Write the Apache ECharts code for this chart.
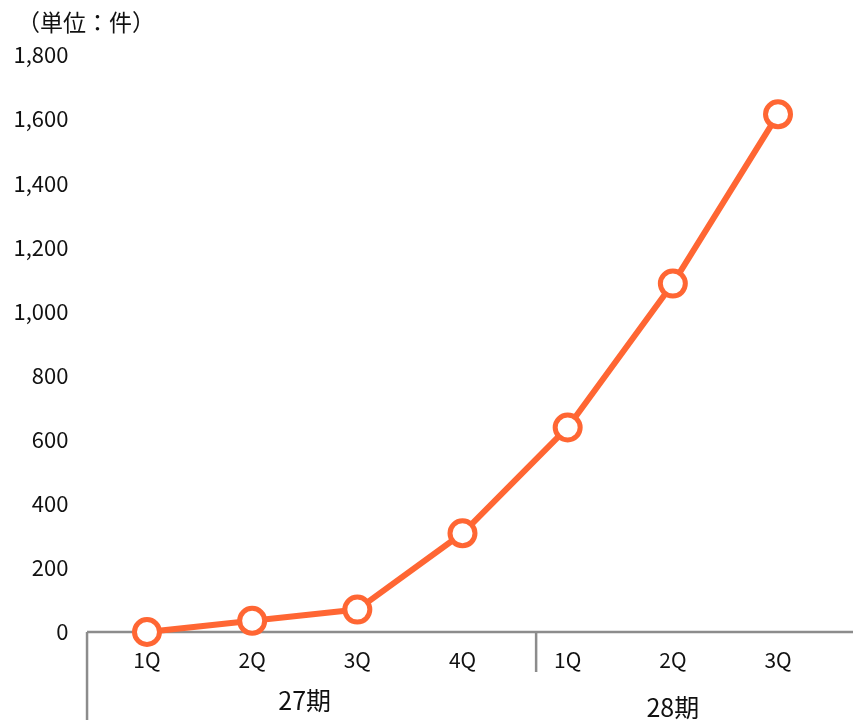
<!DOCTYPE html>
<html>
<head>
<meta charset="utf-8">
<script src="https://cdn.jsdelivr.net/npm/echarts@6/dist/echarts.min.js"></script>
<style>
  html, body { margin: 0; padding: 0; background: #fff; }
  #chart { width: 853px; height: 720px; }
</style>
</head>
<body>
<div id="chart"></div>
<script>
// Quarterly counts, grouped by fiscal period
const quarters = ['1Q', '2Q', '3Q', '4Q', '1Q', '2Q', '3Q'];
const counts = [0, 35, 70, 308, 638, 1087, 1615];
const periods = ['27期', '28期'];
const periodSizes = [4, 3];
const yTicks = { min: 0, max: 1800, step: 200 };
const unitLabel = '（単位：件）';

const LINE_COLOR = '#FF6633';
const AXIS_COLOR = '#8c8c8c';
const TEXT_COLOR = '#111';
const FONT = '"Noto Sans CJK JP", "Noto Sans", sans-serif';

const chart = echarts.init(document.getElementById('chart'), null, { renderer: 'canvas' });

chart.setOption({
  animation: false,
  backgroundColor: '#fff',
  textStyle: { fontFamily: FONT, color: TEXT_COLOR },
  grid: { left: 94.4, right: 22.4, top: 55, bottom: 88, containLabel: false },
  xAxis: {
    type: 'category',
    data: quarters,
    boundaryGap: true,
    axisLine: { show: false },
    axisTick: { show: false },
    axisLabel: { color: TEXT_COLOR, fontSize: 21, fontFamily: FONT, margin: 18, interval: 0 }
  },
  yAxis: {
    type: 'value',
    min: yTicks.min,
    max: yTicks.max,
    interval: yTicks.step,
    splitLine: { show: false },
    axisLine: { show: false },
    axisTick: { show: false },
    axisLabel: {
      color: TEXT_COLOR, fontSize: 22, fontFamily: FONT, margin: 26,
      formatter: v => v.toLocaleString('en-US')
    }
  },
  series: [{
    type: 'line',
    data: counts,
    z: 5,
    lineStyle: { color: LINE_COLOR, width: 6 },
    symbol: 'circle',
    symbolSize: 25,
    itemStyle: { color: '#fff', borderColor: LINE_COLOR, borderWidth: 5 }
  }]
});

// Axis line, period dividers and period labels placed from the category scale
function drawFrame() {
  const toX = i => chart.convertToPixel({ xAxisIndex: 0 }, i);
  const y0 = chart.convertToPixel({ yAxisIndex: 0 }, 0);
  const step = toX(1) - toX(0);
  const leftEdge = toX(0) - 0.57 * step;
  const W = chart.getWidth();
  const H = chart.getHeight();

  const elements = [
    { type: 'line', z: 1, shape: { x1: leftEdge, y1: y0, x2: W, y2: y0 },
      style: { stroke: AXIS_COLOR, lineWidth: 2.5 } },
    { type: 'line', z: 1, shape: { x1: leftEdge, y1: y0, x2: leftEdge, y2: H },
      style: { stroke: AXIS_COLOR, lineWidth: 2.5 } }
  ];

  let start = 0;
  periods.forEach((name, g) => {
    const end = start + periodSizes[g] - 1;
    const cx = (toX(start) + toX(end)) / 2;
    elements.push({
      type: 'text', z: 3,
      style: {
        x: cx, y: y0 + (g === 0 ? 68 : 75), text: name,
        fill: TEXT_COLOR, font: '25px ' + FONT,
        textAlign: 'center', textVerticalAlign: 'middle'
      }
    });
    if (g < periods.length - 1) {
      const dx = toX(end) + 0.7 * step;
      elements.push({ type: 'line', z: 1, shape: { x1: dx, y1: y0, x2: dx, y2: y0 + 40 },
        style: { stroke: AXIS_COLOR, lineWidth: 2.5 } });
    }
    start = end + 1;
  });

  elements.push({
    type: 'text', z: 3,
    style: { x: 17, y: 22, text: unitLabel, fill: TEXT_COLOR, font: '23px ' + FONT,
      textAlign: 'left', textVerticalAlign: 'middle' }
  });

  chart.setOption({ graphic: elements });
}
drawFrame();
</script>
</body>
</html>
